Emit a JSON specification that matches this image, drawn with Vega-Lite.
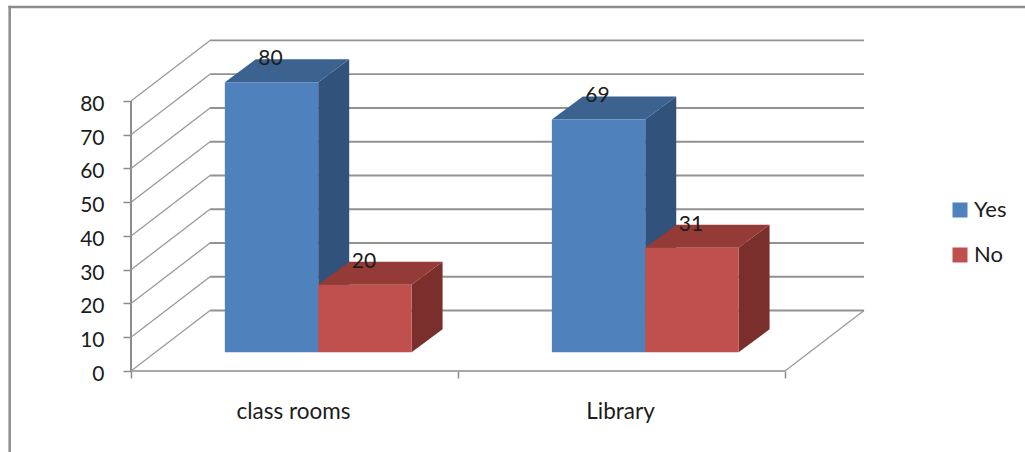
{
  "$schema": "https://vega.github.io/schema/vega-lite/v6.json",
  "width": 734,
  "height": 331,
  "autosize": {"type": "none"},
  "padding": {"left": 131, "top": 40, "right": 160, "bottom": 81},
  "background": "#ffffff",
  "config": {
    "view": {"stroke": null},
    "font": "Lato",
    "text": {"font": "Lato"}
  },
  "resolve": {"axis": {"x": "independent", "y": "independent"}},
  "datasets": {
    "bars": [
      {"category": "class rooms", "series": "Yes", "value": 80},
      {"category": "class rooms", "series": "No", "value": 20},
      {"category": "Library", "series": "Yes", "value": 69},
      {"category": "Library", "series": "No", "value": 31}
    ],
    "levels": [
      {"level": 0}, {"level": 10}, {"level": 20}, {"level": 30}, {"level": 40},
      {"level": 50}, {"level": 60}, {"level": 70}, {"level": 80}
    ]
  },
  "layer": [
    {
      "description": "Axes and the outer frame of the chart",
      "data": {"name": "levels"},
      "mark": {"type": "rule", "color": "#8c8c8c", "strokeWidth": 1.5},
      "encoding": {
        "x": {
          "datum": 0,
          "type": "quantitative",
          "scale": {"domain": [0, 2.2446], "zero": false, "nice": false},
          "axis": {
            "title": null,
            "domain": false,
            "grid": false,
            "values": [0, 0.5, 1, 1.5, 2],
            "labelExpr": "datum.value === 0.5 ? 'class rooms' : datum.value === 1.5 ? 'Library' : ''",
            "tickOpacity": {"condition": {"test": "datum.value % 1 === 0", "value": 1}, "value": 0},
            "tickColor": "#8c8c8c",
            "tickWidth": 1.5,
            "tickSize": 7,
            "labelFontSize": 22.5,
            "labelColor": "#1c1c1c",
            "labelPadding": 22,
            "labelOffset": -1.5,
            "labelFlush": false,
            "labelOverlap": false
          }
        },
        "y": {
          "datum": 0,
          "type": "quantitative",
          "scale": {"domain": [0, 98.07], "zero": false, "nice": false},
          "axis": {
            "title": null,
            "domain": false,
            "grid": false,
            "values": [0, 10, 20, 30, 40, 50, 60, 70, 80],
            "tickColor": "#8c8c8c",
            "tickWidth": 1.5,
            "tickSize": 8,
            "labelFontSize": 21,
            "labelColor": "#1c1c1c",
            "labelPadding": 19,
            "labelOffset": 3.5
          }
        },
        "y2": {"datum": 80}
      }
    },
    {
      "description": "Floor front edge",
      "data": {"values": [{"edge": "front"}]},
      "mark": {"type": "rule", "color": "#8c8c8c", "strokeWidth": 1.5},
      "encoding": {
        "x": {"datum": 0, "type": "quantitative", "axis": null},
        "x2": {"datum": 2},
        "y": {"datum": 0, "type": "quantitative", "axis": null}
      }
    },
    {
      "description": "Floor right edge",
      "data": {"values": [{"edge": "right"}]},
      "mark": {"type": "rule", "color": "#9a9a9a", "strokeWidth": 1.3},
      "encoding": {
        "x": {"datum": 2, "type": "quantitative", "axis": null},
        "x2": {"datum": 2.2416},
        "y": {"datum": 0, "type": "quantitative", "axis": null},
        "y2": {"datum": 17.93}
      }
    },
    {
      "description": "Left wall gridlines",
      "data": {"name": "levels"},
      "transform": [{"calculate": "datum.level + 17.93", "as": "back"}],
      "mark": {"type": "rule", "color": "#9a9a9a", "strokeWidth": 1.3},
      "encoding": {
        "x": {"datum": 0, "type": "quantitative", "axis": null},
        "x2": {"datum": 0.2416},
        "y": {"field": "level", "type": "quantitative", "axis": null},
        "y2": {"field": "back"}
      }
    },
    {
      "description": "Back wall gridlines",
      "data": {"name": "levels"},
      "transform": [{"calculate": "datum.level + 17.93", "as": "back"}],
      "mark": {"type": "rule", "color": "#929292", "strokeWidth": 1.8},
      "encoding": {
        "x": {"datum": 0.2416, "type": "quantitative", "axis": null},
        "x2": {"datum": 2.2416},
        "y": {"field": "back", "type": "quantitative", "axis": null}
      }
    },
    {
      "description": "Left edge of the frame",
      "data": {"values": [{"edge": "left"}]},
      "mark": {"type": "rule", "color": "#8c8c8c", "strokeWidth": 2.5},
      "encoding": {
        "x": {"datum": -0.371, "type": "quantitative", "axis": null},
        "y": {"datum": -24, "type": "quantitative", "axis": null},
        "y2": {"datum": 108.2}
      }
    },
    {
      "description": "Top edge of the frame",
      "data": {"values": [{"edge": "top"}]},
      "mark": {"type": "rule", "color": "#8c8c8c", "strokeWidth": 2.5},
      "encoding": {
        "x": {"datum": -0.375, "type": "quantitative", "axis": null},
        "x2": {"datum": 2.74},
        "y": {"datum": 107.85, "type": "quantitative", "axis": null}
      }
    },
    {
      "description": "Right-hand side face of each bar",
      "data": {"name": "bars"},
      "transform": [
        {"calculate": "(datum.category === 'Library' ? 1 : 0) + 0.2870 + (datum.series === 'No' ? 0.2855 : 0) + 0.2855", "as": "xRight"},
        {"calculate": "[0, 1]", "as": "depth"},
        {"flatten": ["depth"]},
        {"calculate": "datum.xRight + datum.depth * 0.0948", "as": "xFace"},
        {"calculate": "5.54 + datum.depth * 6.815", "as": "yBase"},
        {"calculate": "datum.yBase + datum.value", "as": "yTop"}
      ],
      "mark": {"type": "area", "orient": "vertical", "interpolate": "linear"},
      "encoding": {
        "x": {"field": "xFace", "type": "quantitative", "axis": null},
        "y": {"field": "yTop", "type": "quantitative", "axis": null},
        "y2": {"field": "yBase"},
        "detail": [{"field": "category"}, {"field": "series"}],
        "color": {"condition": {"test": "datum.series === 'Yes'", "value": "#31527a"}, "value": "#7a2f2d"}
      }
    },
    {
      "description": "Top face of each bar",
      "data": {"name": "bars"},
      "transform": [
        {"calculate": "(datum.category === 'Library' ? 1 : 0) + 0.2870 + (datum.series === 'No' ? 0.2855 : 0)", "as": "xLeft"},
        {"calculate": "[0, 1]", "as": "depth"},
        {"flatten": ["depth"]},
        {"calculate": "datum.xLeft + datum.depth * 0.0948", "as": "xFace"},
        {"calculate": "datum.xFace + 0.2855", "as": "xFace2"},
        {"calculate": "5.54 + datum.depth * 6.815 + datum.value", "as": "yTop"}
      ],
      "mark": {"type": "area", "orient": "horizontal", "interpolate": "linear"},
      "encoding": {
        "y": {"field": "yTop", "type": "quantitative", "axis": null},
        "x": {"field": "xFace", "type": "quantitative", "axis": null},
        "x2": {"field": "xFace2"},
        "detail": [{"field": "category"}, {"field": "series"}],
        "color": {"condition": {"test": "datum.series === 'Yes'", "value": "#3c6290"}, "value": "#943a37"}
      }
    },
    {
      "description": "Front face of each bar, which also carries the legend",
      "data": {"name": "bars"},
      "transform": [
        {"calculate": "(datum.category === 'Library' ? 1 : 0) + 0.2870 + (datum.series === 'No' ? 0.2855 : 0)", "as": "xLeft"},
        {"calculate": "datum.xLeft + 0.2855", "as": "xRight"},
        {"calculate": "5.54", "as": "yBase"},
        {"calculate": "datum.yBase + datum.value", "as": "yTop"}
      ],
      "mark": {"type": "rect"},
      "encoding": {
        "x": {"field": "xLeft", "type": "quantitative", "axis": null},
        "x2": {"field": "xRight"},
        "y": {"field": "yTop", "type": "quantitative", "axis": null},
        "y2": {"field": "yBase"},
        "color": {
          "field": "series",
          "type": "nominal",
          "scale": {"domain": ["Yes", "No"], "range": ["#4f81bd", "#c0504d"]},
          "legend": {
            "title": null,
            "orient": "none",
            "legendX": 818,
            "legendY": 159,
            "symbolType": "square",
            "symbolSize": 225,
            "symbolStrokeWidth": 0,
            "symbolOpacity": 1,
            "labelFontSize": 22,
            "labelColor": "#1c1c1c",
            "labelOffset": 3,
            "rowPadding": 23,
            "padding": 0
          }
        }
      }
    },
    {
      "description": "Value labels above each bar",
      "data": {"name": "bars"},
      "transform": [
        {"calculate": "(datum.category === 'Library' ? 1 : 0) + 0.2870 + (datum.series === 'No' ? 0.2855 : 0) + 0.14275", "as": "xMid"},
        {"calculate": "5.54 + 6.815 + datum.value", "as": "yTop"}
      ],
      "mark": {"type": "text", "fontSize": 21, "color": "#1c1c1c", "align": "center", "baseline": "middle", "dy": 0, "dx": -1},
      "encoding": {
        "x": {"field": "xMid", "type": "quantitative", "axis": null},
        "y": {"field": "yTop", "type": "quantitative", "axis": null},
        "text": {"field": "value", "type": "quantitative"}
      }
    }
  ]
}
